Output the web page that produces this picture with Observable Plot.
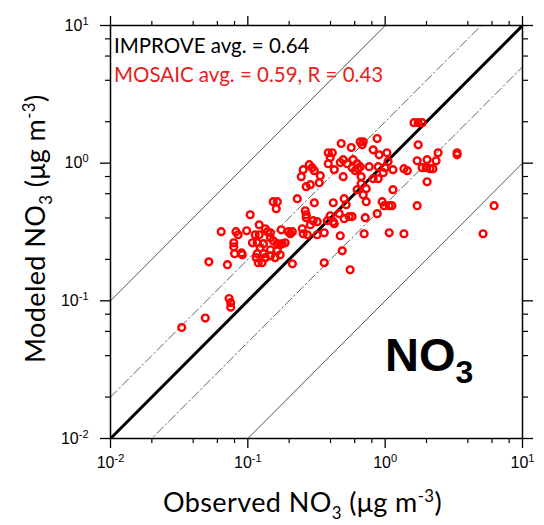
<!DOCTYPE html>
<html><head><meta charset="utf-8">
<script src="https://cdn.jsdelivr.net/npm/d3@7"></script>
<script src="https://cdn.jsdelivr.net/npm/@observablehq/plot@0.6"></script>
<style>body{margin:0;background:#fff} svg{display:block}</style>
</head><body><div id="chart"></div>
<script>
// Observed (IMPROVE) vs modeled (MOSAIC) NO3, µg m-3
const observed = [
  0.033,0.049,0.073,0.075,0.075,0.052,0.071,0.064,0.082,0.085,0.098,0.104,0.121,0.113,0.121,0.134,0.139,0.146,
  0.079,0.079,0.108,0.117,0.130,0.123,0.146,0.080,0.090,0.091,0.115,0.117,0.130,0.134,0.119,0.127,0.146,0.164,0.164,
  0.146,0.153,0.175,0.197,0.204,0.211,0.178,0.187,0.172,0.172,0.158,0.211,0.153,0.164,0.161,
  0.229,0.249,0.253,0.271,0.320,0.360,0.262,0.266,0.266,0.299,0.285,0.320,0.379,0.419,0.426,0.398,0.305,
  0.245,0.253,0.280,0.294,0.305,0.337,0.331,0.285,0.266,
  0.385,0.412,0.398,0.385,0.426,0.471,0.495,0.529,0.479,0.566,0.658,0.692,0.680,0.875,0.818,0.904,1.03,
  0.585,0.625,0.658,0.636,0.575,0.605,0.765,0.889,1.05,1.00,1.14,
  0.495,0.669,0.818,0.889,0.967,0.669,0.728,0.625,0.692,0.503,0.419,0.520,0.728,0.951,0.984,1.07,1.14,
  0.463,0.503,0.547,0.575,0.716,0.875,0.471,0.703,1.07,1.37,5.16,0.487,0.360,0.556,
  1.12,1.71,6.21,2.02,1.37,1.45,1.71,2.02,2.35,1.86,1.99,2.12,2.23,2.43,3.34,3.34,1.74,1.62,1.74,1.86
];
const modeled = [
  0.064,0.075,0.104,0.097,0.090,0.192,0.183,0.318,0.318,0.302,0.323,0.422,0.357,0.302,0.302,0.334,0.318,0.312,
  0.264,0.247,0.264,0.264,0.260,0.243,0.235,0.220,0.223,0.216,0.206,0.220,0.220,0.206,0.189,0.189,0.212,0.231,0.260,
  0.287,0.273,0.328,0.318,0.307,0.318,0.260,0.264,0.255,0.216,0.206,0.186,0.525,0.525,0.467,
  0.552,0.334,0.307,0.302,0.302,0.312,0.451,0.422,0.402,0.382,0.357,0.376,0.382,0.376,0.363,0.415,0.516,
  0.798,0.897,0.975,0.928,0.882,0.811,0.721,0.698,0.675,
  1.19,1.19,1.10,0.991,0.897,1.01,1.06,0.991,1.39,1.30,1.43,1.43,1.36,1.51,1.25,1.15,1.19,
  1.06,0.991,0.943,0.912,0.928,0.882,0.943,0.943,1.03,0.928,0.897,
  0.798,0.798,0.772,0.772,0.853,0.710,0.653,0.642,0.590,0.552,0.516,0.499,0.525,0.525,0.491,0.491,0.642,
  0.430,0.395,0.409,0.409,0.402,0.430,0.297,0.307,0.312,0.307,0.307,0.231,0.189,0.168,
  0.491,0.491,0.491,0.733,0.912,0.882,1.04,1.06,1.04,0.928,0.928,0.912,0.912,1.19,1.19,1.15,1.36,1.97,1.97,1.97
];
const majorTicks = [0.01, 0.1, 1, 10];
const minorMultipliers = [2, 4, 6, 8];
const oneToOne = [1];
const factorTwo = [2, 0.5];
const factorTen = [10, 0.1];
const improveText = "IMPROVE avg. = 0.64";
const mosaicText = "MOSAIC avg. = 0.59, R = 0.43";

const points = observed.map((x, i) => ({x, y: modeled[i]}));
const minorTicks = majorTicks.slice(0, 3).flatMap(t => minorMultipliers.map(m => t * m));
const ratioLines = rs => rs.flatMap(r => [{r, x: 0.01, y: 0.01 * r}, {r, x: 10, y: 10 * r}]);

const noLabel = () => "";
const plot = Plot.plot({
  width: 544, height: 525,
  marginLeft: 110, marginRight: 22, marginTop: 25, marginBottom: 87,
  x: {type: "log", domain: [0.01, 10]},
  y: {type: "log", domain: [0.01, 10]},
  style: {fontFamily: "'Liberation Sans', Arial, sans-serif", fontSize: "16px", color: "#000", background: "#fff"},
  marks: [
    Plot.line(ratioLines(factorTen), {x: "x", y: "y", z: "r", stroke: "#555", strokeWidth: 1, clip: true}),
    Plot.line(ratioLines(factorTwo), {x: "x", y: "y", z: "r", stroke: "#666", strokeWidth: 1, strokeDasharray: "9,3,1.5,3", clip: true}),
    Plot.line(ratioLines(oneToOne), {x: "x", y: "y", z: "r", stroke: "#000", strokeWidth: 3, clip: true}),
    Plot.dot(points, {x: "x", y: "y", r: 3.4, stroke: "#ff0000", strokeWidth: 2.4, fill: "none", clip: true}),
    Plot.frame({stroke: "#000", strokeWidth: 1.5}),
    Plot.axisX(majorTicks, {anchor: "bottom", tickSize: 10, tickPadding: 8, strokeWidth: 1.3, label: null, tickFormat: d => String(Math.round(Math.log10(d)))}),
    Plot.axisX(minorTicks, {anchor: "bottom", tickSize: 5, strokeWidth: 1.2, label: null, tickFormat: noLabel}),
    Plot.axisX(majorTicks, {anchor: "top", tickSize: 10, strokeWidth: 1.3, label: null, tickFormat: noLabel}),
    Plot.axisX(minorTicks, {anchor: "top", tickSize: 5, strokeWidth: 1.2, label: null, tickFormat: noLabel}),
    Plot.axisY(majorTicks, {anchor: "left", tickSize: 10, tickPadding: 12, strokeWidth: 1.3, label: null, tickFormat: d => String(Math.round(Math.log10(d)))}),
    Plot.axisY(minorTicks, {anchor: "left", tickSize: 5, strokeWidth: 1.2, label: null, tickFormat: noLabel}),
    Plot.axisY(majorTicks, {anchor: "right", tickSize: 10, strokeWidth: 1.3, label: null, tickFormat: noLabel}),
    Plot.axisY(minorTicks, {anchor: "right", tickSize: 5, strokeWidth: 1.2, label: null, tickFormat: noLabel})
  ]
});
document.getElementById("chart").appendChild(plot);

const svg = d3.select(plot);
// turn exponent labels into 10^n with superscripts
svg.selectAll("g[aria-label$='tick label'] text").each(function() {
  const t = d3.select(this);
  const e = t.text();
  if (e === "") return;
  t.text("");
  t.append("tspan").text("10");
  t.append("tspan").attr("dy", "-0.55em").attr("font-size", "11px").text(e);
});

const humanist = "Lato, 'Open Sans', sans-serif";
svg.append("text").attr("x", 114).attr("y", 53).attr("text-anchor", "start").attr("font-family", humanist).attr("font-size", 20.5)
  .attr("fill", "#000").text(improveText);
svg.append("text").attr("x", 114).attr("y", 82).attr("text-anchor", "start").attr("font-family", humanist).attr("font-size", 20.5)
  .attr("fill", "#e8201c").text(mosaicText);

const big = svg.append("text").attr("x", 385).attr("y", 371).attr("text-anchor", "start").attr("font-family", "'Liberation Sans', Arial, sans-serif")
  .attr("font-size", 47).attr("font-weight", "bold").attr("fill", "#000");
big.append("tspan").text("NO");
big.append("tspan").attr("dy", 12).attr("font-size", 32).text("3");

function title(sel, main) {
  sel.append("tspan").text(main + " NO");
  sel.append("tspan").attr("dy", 7).attr("font-size", "0.62em").text("3");
  sel.append("tspan").attr("dy", -7).text(" (\u03bcg m");
  sel.append("tspan").attr("dy", -10).attr("font-size", "0.62em").text("-3");
  sel.append("tspan").attr("dy", 10).text(")");
}
const xt = svg.append("text").attr("x", 163).attr("y", 512).attr("text-anchor", "start").attr("font-family", humanist)
  .attr("font-size", 27).attr("letter-spacing", 0.4).attr("fill", "#000");
title(xt, "Observed");
const yt = svg.append("text").attr("transform", "translate(45,363) rotate(-90)").attr("text-anchor", "start").attr("font-family", humanist)
  .attr("font-size", 27).attr("letter-spacing", 0.4).attr("fill", "#000");
title(yt, "Modeled");
</script></body></html>
